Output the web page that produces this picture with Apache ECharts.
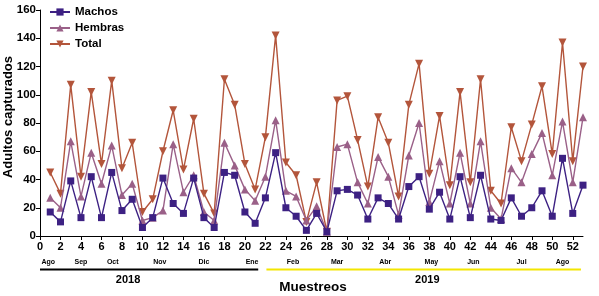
<!DOCTYPE html>
<html>
<head>
<meta charset="utf-8">
<script src="https://cdn.jsdelivr.net/npm/echarts@6/dist/echarts.min.js"></script>
<style>
  html, body { margin: 0; padding: 0; background: #fff; }
  #chart { width: 599px; height: 296px; }
</style>
</head>
<body>
<div id="chart"></div>
<script>
// semanas de muestreo 1..53
const weeks = Array.from({ length: 53 }, (_, i) => i + 1);
const machos = [17, 10, 39, 13, 42, 13, 45, 18, 26, 6, 13, 41, 23, 16, 41, 13, 6,
  45, 43, 17, 9, 27, 59, 20, 14, 4, 16, 3, 32, 33, 29, 12, 27, 23, 12,
  35, 42, 19, 31, 12, 42, 13, 43, 12, 11, 27, 14, 20, 32, 14, 55, 16, 36];
const hembras = [27, 20, 67, 28, 59, 37, 64, 29, 37, 11, 13, 18, 65, 31, 43, 17, 11,
  66, 50, 33, 25, 42, 82, 32, 28, 11, 21, 3, 63, 65, 38, 23, 56, 42, 15,
  57, 80, 24, 53, 23, 59, 23, 67, 20, 12, 48, 38, 58, 73, 43, 81, 38, 84];
const total = [45, 30, 107, 42, 102, 51, 110, 48, 66, 17, 26, 60, 89, 47, 83, 30, 16,
  111, 93, 51, 33, 70, 142, 52, 43, 10, 38, 3, 96, 99, 68, 35, 84, 66, 28,
  93, 122, 44, 85, 36, 102, 38, 111, 32, 23, 77, 53, 79, 106, 58, 137, 53, 120];

const xTicks = [0, 2, 4, 6, 8, 10, 12, 14, 16, 18, 20, 22, 24, 26, 28, 30, 32, 34, 36, 38, 40, 42, 44, 46, 48, 50, 52];
const months = ['Ago', 'Sep', 'Oct', 'Nov', 'Dic', 'Ene', 'Feb', 'Mar', 'Abr', 'May', 'Jun', 'Jul', 'Ago'];
const monthAt = [0.8, 4.0, 7.1, 11.7, 16.0, 20.7, 24.7, 29.0, 33.7, 38.2, 42.3, 47.0, 51.0];
const years = ['2018', '2019'];
const yearSpan = [[0, 21.3], [22.1, 52.8]];
const yearLabelAt = [8.6, 37.8];

const FONT = 'Arial, "Liberation Sans", sans-serif';
const pairs = arr => arr.map((v, i) => [weeks[i], v]);

const chart = echarts.init(document.getElementById('chart'));

chart.setOption({
  animation: false,
  textStyle: { fontFamily: FONT },
  grid: { left: 40, right: 16, top: 10, bottom: 60 },
  legend: {
    orient: 'vertical',
    left: 44,
    top: 1,
    itemWidth: 20,
    itemHeight: 9,
    itemGap: 4,
    textStyle: { fontFamily: FONT, fontSize: 11.5, fontWeight: 'bold', color: '#000', lineHeight: 12 },
    data: ['Machos', 'Hembras', 'Total']
  },
  xAxis: {
    type: 'value',
    min: 0,
    max: 53,
    axisLine: { lineStyle: { color: '#000', width: 1 } },
    axisTick: { customValues: xTicks, length: 4, lineStyle: { color: '#000' } },
    axisLabel: { customValues: xTicks, color: '#000', fontSize: 11, fontWeight: 'bold', margin: 5 },
    splitLine: { show: false }
  },
  yAxis: {
    type: 'value',
    min: 0,
    max: 160,
    interval: 20,
    axisLine: { show: true, lineStyle: { color: '#000', width: 1 } },
    axisTick: { show: true, length: 4, lineStyle: { color: '#000' } },
    axisLabel: { color: '#000', fontSize: 11.5, fontWeight: 'bold', margin: 4 },
    splitLine: { show: false }
  },
  series: [
    {
      name: 'Total',
      type: 'line',
      data: pairs(total),
      symbol: 'triangle',
      symbolRotate: 180,
      symbolSize: 8,
      color: '#b3553b',
      lineStyle: { width: 1.4 },
      z: 2
    },
    {
      name: 'Hembras',
      type: 'line',
      data: pairs(hembras),
      symbol: 'triangle',
      symbolSize: 8,
      color: '#9a6088',
      lineStyle: { width: 1.4 },
      z: 3
    },
    {
      name: 'Machos',
      type: 'line',
      data: pairs(machos),
      symbol: 'rect',
      symbolSize: 7,
      color: '#3d2183',
      lineStyle: { width: 1.4 },
      z: 4
    }
  ]
});

// anotaciones bajo el eje: meses, años y título
const px = v => chart.convertToPixel({ xAxisIndex: 0 }, v);
const graphics = [];
months.forEach((m, i) => {
  graphics.push({
    type: 'text', x: px(monthAt[i]), y: 262,
    style: { text: m, font: 'bold 7px ' + FONT, fill: '#000', align: 'center', verticalAlign: 'middle' }
  });
});
const yearColors = ['#000', '#f3e600'];
years.forEach((y, i) => {
  graphics.push({
    type: 'line',
    shape: { x1: px(yearSpan[i][0]), y1: 269.5, x2: px(yearSpan[i][1]), y2: 269.5 },
    style: { stroke: yearColors[i], lineWidth: 2 }
  });
  graphics.push({
    type: 'text', x: px(yearLabelAt[i]), y: 280,
    style: { text: y, font: 'bold 11px ' + FONT, fill: '#000', align: 'center', verticalAlign: 'middle' }
  });
});
graphics.push({
  type: 'text', x: 313, y: 287,
  style: { text: 'Muestreos', font: 'bold 13.5px ' + FONT, fill: '#000', align: 'center', verticalAlign: 'middle' }
});
graphics.push({
  type: 'text', x: 8, y: 117, rotation: Math.PI / 2,
  style: { text: 'Adultos capturados', font: 'bold 13px ' + FONT, fill: '#000', align: 'center', verticalAlign: 'middle' }
});
chart.setOption({ graphic: graphics });
</script>
</body>
</html>
